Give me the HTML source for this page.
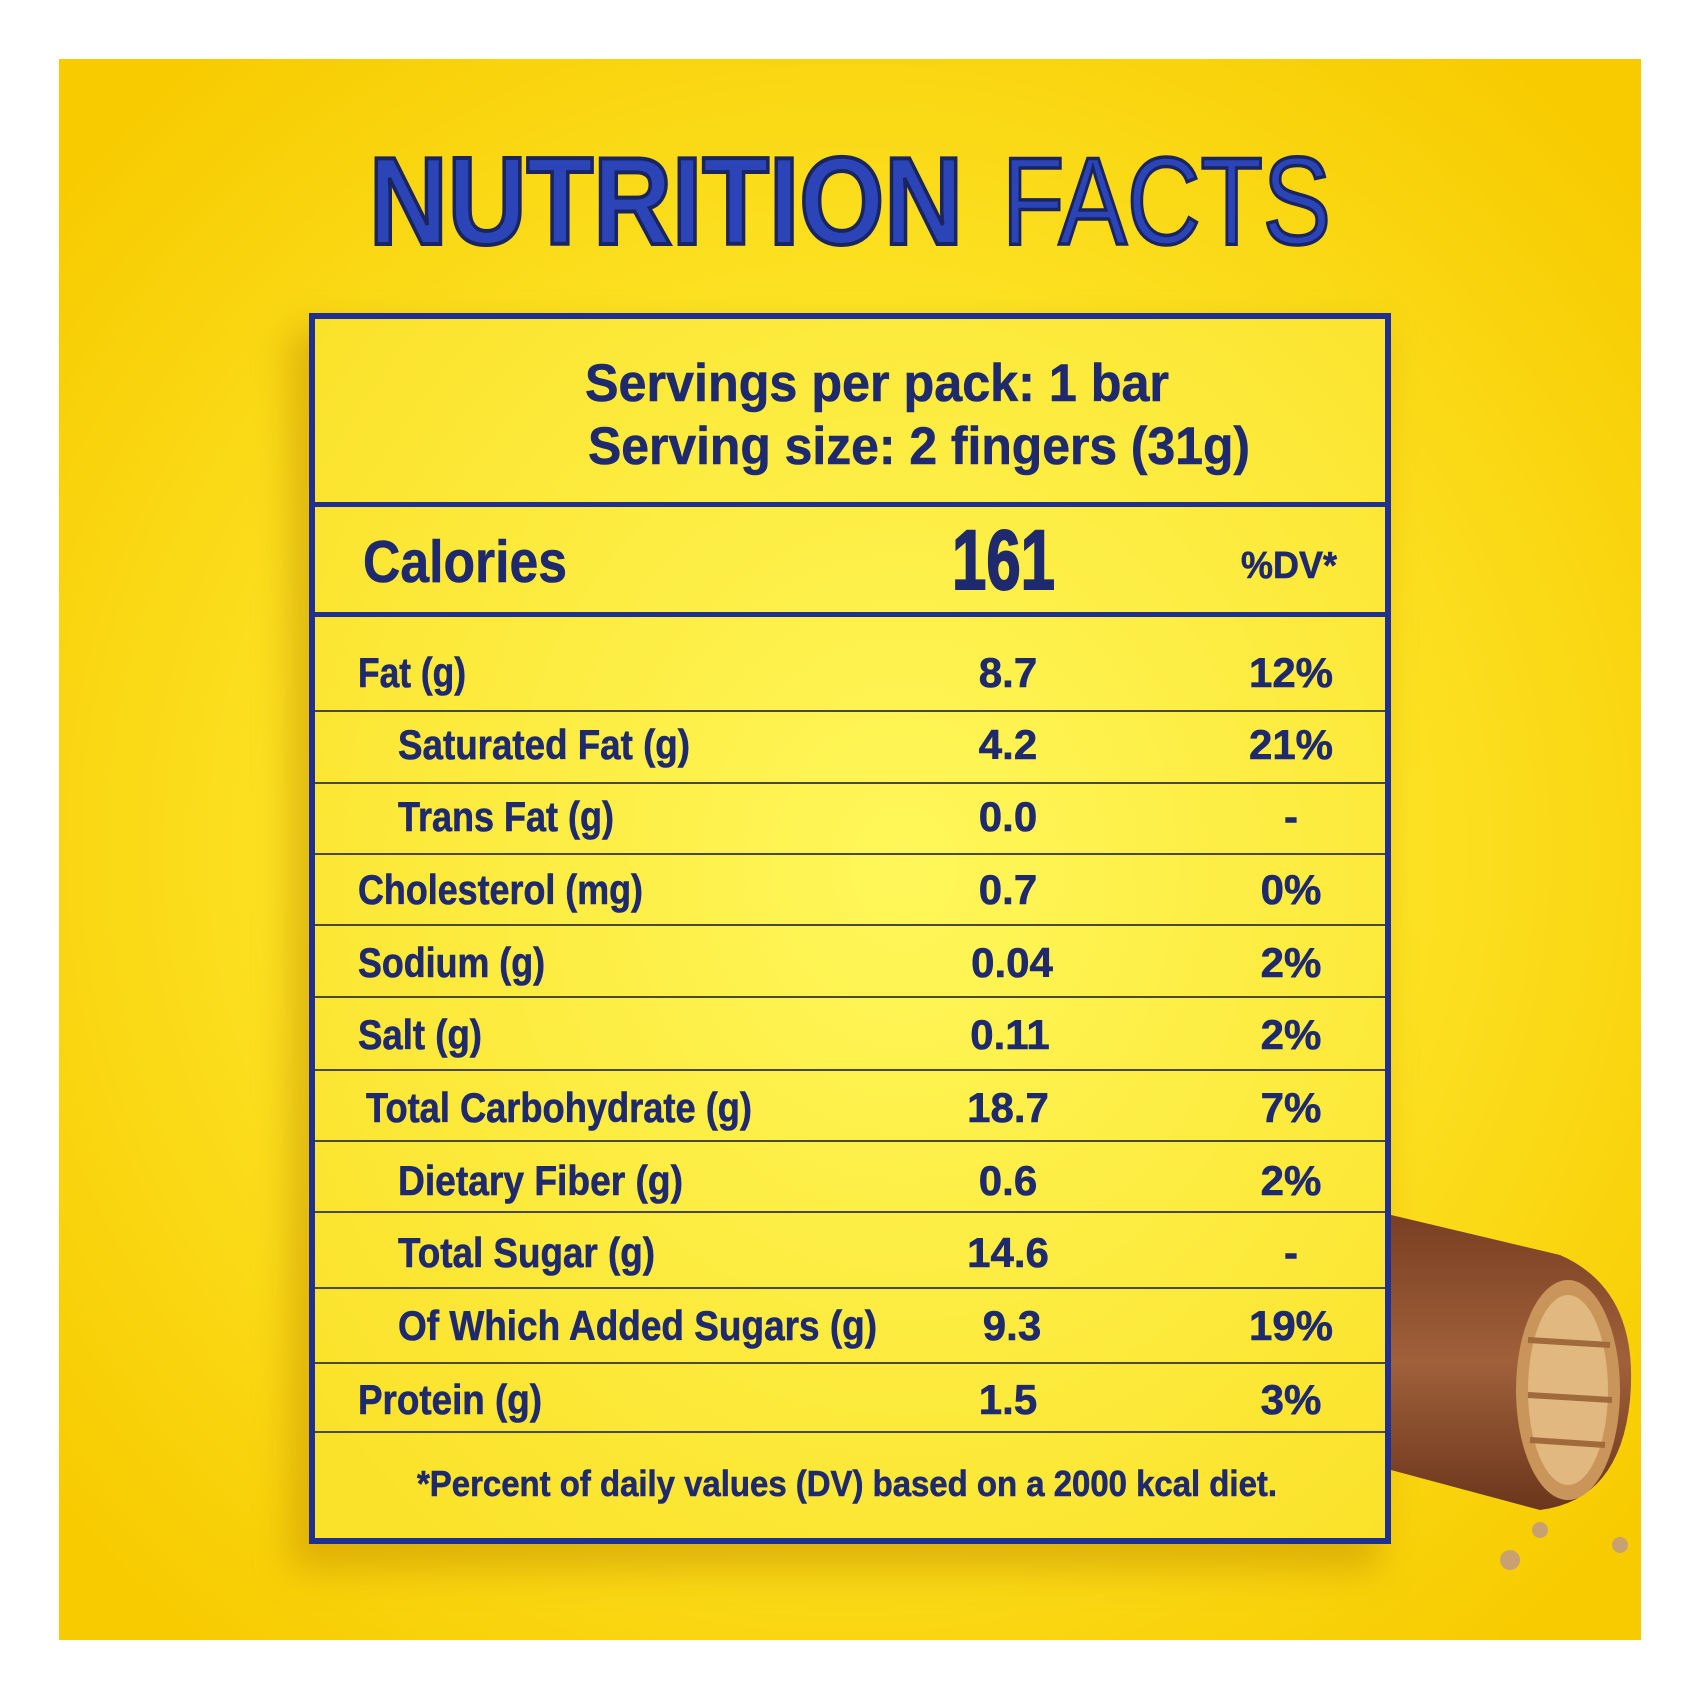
<!DOCTYPE html>
<html><head><meta charset="utf-8"><style>
html,body{margin:0;padding:0;background:#fff;}
svg{display:block;}
text{font-family:"Liberation Sans Narrow","Liberation Sans",sans-serif;font-weight:bold;fill:#1f2a6e;stroke:#1f2a6e;stroke-width:0.6;}
</style></head><body>
<svg width="1700" height="1700" viewBox="0 0 1700 1700" xmlns="http://www.w3.org/2000/svg">
<defs>
<radialGradient id="bg" cx="0.5" cy="0.5" r="0.65">
<stop offset="0" stop-color="#fff452"/>
<stop offset="0.45" stop-color="#fde62a"/>
<stop offset="1" stop-color="#f7cb00"/>
</radialGradient>
<radialGradient id="tb" cx="0.55" cy="0.45" r="0.7">
<stop offset="0" stop-color="#fff75a"/>
<stop offset="1" stop-color="#fbe22a"/>
</radialGradient>
<filter id="sh" x="-20%" y="-20%" width="140%" height="140%"><feGaussianBlur stdDeviation="18"/></filter>
<linearGradient id="choc" x1="0" y1="0" x2="0" y2="1">
<stop offset="0" stop-color="#7a3f22"/><stop offset="0.5" stop-color="#a0603a"/><stop offset="1" stop-color="#6b361c"/>
</linearGradient>
</defs>
<rect x="59" y="59" width="1582" height="1581" fill="url(#bg)"/>
<rect x="290" y="330" width="1090" height="1240" fill="#c89400" opacity="0.55" filter="url(#sh)"/>
<path d="M1391 1215 L1560 1255 Q1640 1290 1630 1400 Q1620 1500 1540 1510 L1391 1470 Z" fill="url(#choc)"/>
<ellipse cx="1568" cy="1390" rx="52" ry="110" fill="#c9955a"/>
<ellipse cx="1568" cy="1390" rx="40" ry="95" fill="#e0b880"/>
<path d="M1528 1340 L1610 1345 M1528 1395 L1612 1400 M1530 1440 L1605 1445" stroke="#a06a3a" stroke-width="6"/>
<circle cx="1540" cy="1530" r="8" fill="#c9a070"/><circle cx="1510" cy="1560" r="10" fill="#c9a070"/><circle cx="1620" cy="1545" r="8" fill="#c9a070"/>
<rect x="312" y="316" width="1076" height="1225" fill="url(#tb)" stroke="#1f3090" stroke-width="6"/>
<rect x="312" y="502" width="1076" height="5" fill="#1f3090"/>
<rect x="312" y="612" width="1076" height="5" fill="#1f3090"/>
<g stroke="#4a4a3a" stroke-width="2">
<line x1="315" y1="711" x2="1385" y2="711"/><line x1="315" y1="783" x2="1385" y2="783"/>
<line x1="315" y1="854" x2="1385" y2="854"/><line x1="315" y1="925" x2="1385" y2="925"/>
<line x1="315" y1="997" x2="1385" y2="997"/><line x1="315" y1="1070" x2="1385" y2="1070"/>
<line x1="315" y1="1141" x2="1385" y2="1141"/><line x1="315" y1="1212" x2="1385" y2="1212"/>
<line x1="315" y1="1288" x2="1385" y2="1288"/><line x1="315" y1="1363" x2="1385" y2="1363"/>
<line x1="315" y1="1432" x2="1385" y2="1432"/>
</g>
<text x="369" y="244" font-size="124" textLength="594" lengthAdjust="spacingAndGlyphs" style="fill:#2b45b8;stroke:#1a2560;stroke-width:4">NUTRITION</text>
<text x="1002" y="244" font-size="124" textLength="329" lengthAdjust="spacingAndGlyphs" style="fill:#2b45b8;stroke:#1a2560;stroke-width:3.5;font-weight:normal">FACTS</text>
<text x="585" y="401" font-size="53" textLength="584" lengthAdjust="spacingAndGlyphs">Servings per pack: 1 bar</text>
<text x="588" y="464" font-size="53" textLength="662" lengthAdjust="spacingAndGlyphs">Serving size: 2 fingers (31g)</text>
<text x="363" y="582" font-size="59" textLength="204" lengthAdjust="spacingAndGlyphs">Calories</text>
<text x="952" y="589" font-size="84" textLength="103" lengthAdjust="spacingAndGlyphs" style="stroke-width:2">161</text>
<text x="1241" y="578" font-size="38" textLength="96" lengthAdjust="spacingAndGlyphs">%DV*</text>
<g font-size="42">
<text x="358" y="687" textLength="108" lengthAdjust="spacingAndGlyphs">Fat (g)</text>
<text x="398" y="759" textLength="292" lengthAdjust="spacingAndGlyphs">Saturated Fat (g)</text>
<text x="398" y="831" textLength="216" lengthAdjust="spacingAndGlyphs">Trans Fat (g)</text>
<text x="358" y="904" textLength="285" lengthAdjust="spacingAndGlyphs">Cholesterol (mg)</text>
<text x="358" y="977" textLength="187" lengthAdjust="spacingAndGlyphs">Sodium (g)</text>
<text x="358" y="1049" textLength="124" lengthAdjust="spacingAndGlyphs">Salt (g)</text>
<text x="366" y="1122" textLength="386" lengthAdjust="spacingAndGlyphs">Total Carbohydrate (g)</text>
<text x="398" y="1195" textLength="285" lengthAdjust="spacingAndGlyphs">Dietary Fiber (g)</text>
<text x="398" y="1267" textLength="257" lengthAdjust="spacingAndGlyphs">Total Sugar (g)</text>
<text x="398" y="1340" textLength="479" lengthAdjust="spacingAndGlyphs">Of Which Added Sugars (g)</text>
<text x="358" y="1414" textLength="184" lengthAdjust="spacingAndGlyphs">Protein (g)</text>
</g>
<g font-size="42" text-anchor="middle">
<text x="1008" y="687">8.7</text><text x="1008" y="759">4.2</text><text x="1008" y="831">0.0</text>
<text x="1008" y="904">0.7</text><text x="1012" y="977">0.04</text><text x="1010" y="1049">0.11</text>
<text x="1008" y="1122">18.7</text><text x="1008" y="1195">0.6</text><text x="1008" y="1267">14.6</text>
<text x="1012" y="1340">9.3</text><text x="1008" y="1414">1.5</text>
<text x="1291" y="687">12%</text><text x="1291" y="759">21%</text><text x="1291" y="831">-</text>
<text x="1291" y="904">0%</text><text x="1291" y="977">2%</text><text x="1291" y="1049">2%</text>
<text x="1291" y="1122">7%</text><text x="1291" y="1195">2%</text><text x="1291" y="1267">-</text>
<text x="1291" y="1340">19%</text><text x="1291" y="1414">3%</text>
</g>
<text x="417" y="1496" font-size="36" textLength="860" lengthAdjust="spacingAndGlyphs">*Percent of daily values (DV) based on a 2000 kcal diet.</text>
</svg>
</body></html>
